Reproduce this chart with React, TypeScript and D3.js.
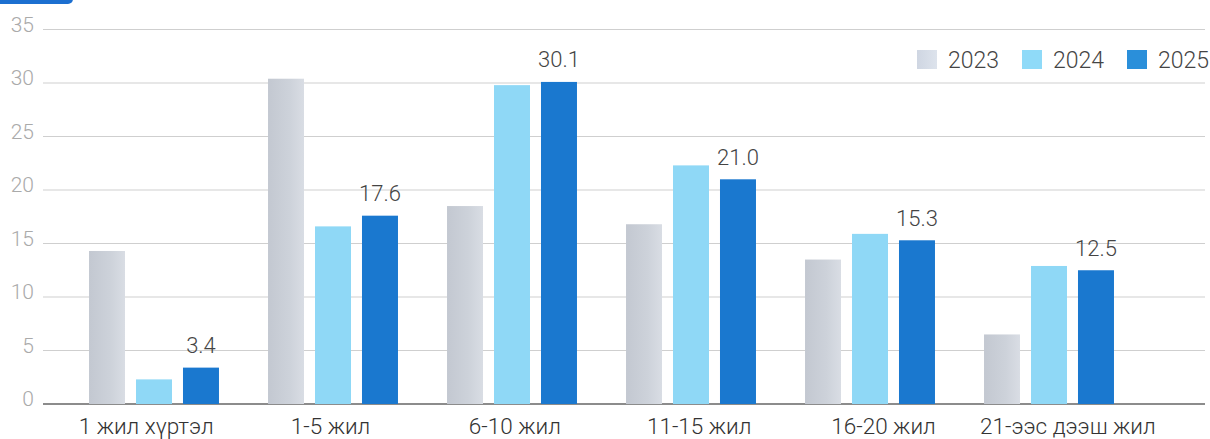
import React from "react";
import * as d3 from "d3";

const categories = ["1 жил хүртэл", "1-5 жил", "6-10 жил", "11-15 жил", "16-20 жил", "21-ээс дээш жил"];
const years = ["2023", "2024", "2025"];
const values2023 = [14.3, 30.4, 18.5, 16.8, 13.5, 6.5];
const values2024 = [2.3, 16.6, 29.8, 22.3, 15.9, 12.9];
const values2025 = [3.4, 17.6, 30.1, 21.0, 15.3, 12.5];
const yTicks = [0, 5, 10, 15, 20, 25, 30, 35];
const labelledYear = "2025";

const W = 1210;
const H = 439;
const FONT = "Roboto, 'Noto Sans', sans-serif";

export default function App() {
  const series: Record<string, number[]> = {
    "2023": values2023,
    "2024": values2024,
    "2025": values2025,
  };
  const colors: Record<string, string> = {
    "2023": "url(#g2023)",
    "2024": "#8fd8f6",
    "2025": "#1a78cf",
  };
  const legendColors: Record<string, string> = {
    "2023": "url(#g2023l)",
    "2024": "#8fdaf8",
    "2025": "#2a8fda",
  };

  const y = d3.scaleLinear().domain([0, 35]).range([404, 29.5]);
  const x0 = d3
    .scaleBand<string>()
    .domain(categories)
    .range([64.5, 1138.5])
    .paddingInner(0.274)
    .paddingOuter(0.137);
  const x1 = d3.scaleBand<string>().domain(years).range([0, x0.bandwidth()]).paddingInner(0.234);
  const xLabel = d3.scaleBand<string>().domain(categories).range([54, 1160]);
  const legendX = d3.scaleBand<string>().domain(years).range([917, 1232]);

  const gridX0 = 43;
  const gridX1 = 1205;

  return (
    <svg
      width={W}
      height={H}
      style={{ position: "absolute", left: 0, top: 0, background: "#fff" }}
      fontFamily={FONT}
    >
      <defs>
        <linearGradient id="g2023" x1="0" x2="1" y1="0" y2="0">
          <stop offset="0" stopColor="#c3c8d1" />
          <stop offset="0.6" stopColor="#cdd2da" />
          <stop offset="1" stopColor="#d9dde4" />
        </linearGradient>
        <linearGradient id="g2023l" x1="0" x2="1" y1="0" y2="0">
          <stop offset="0" stopColor="#cfd6e2" />
          <stop offset="1" stopColor="#dde3ec" />
        </linearGradient>
      </defs>
      <rect width={W} height={H} fill="#fff" />
      <rect x={-10} y={-20} width={83} height={24} rx={5} fill="#1c6fd0" />

      {yTicks.map((t) => (
        <g key={t}>
          <line
            x1={gridX0}
            x2={gridX1}
            y1={y(t)}
            y2={y(t)}
            stroke={t === 0 ? "#666" : "#cfcfcf"}
            strokeWidth={t === 0 ? 1.5 : 1}
          />
          <text
            x={34}
            y={y(t) + 2}
            textAnchor="end"
            fontSize={21}
            fontWeight={300}
            fill="#aaaaaa"
          >
            {t}
          </text>
        </g>
      ))}

      {categories.map((c, i) => (
        <g key={c} transform={`translate(${x0(c)},0)`}>
          {years.map((yr) => {
            const v = series[yr][i];
            return (
              <rect
                key={yr}
                x={x1(yr)}
                y={y(v)}
                width={x1.bandwidth()}
                height={y(0) - y(v)}
                fill={colors[yr]}
              />
            );
          })}
          <text
            x={(x1(labelledYear) as number) + x1.bandwidth() / 2}
            y={y(series[labelledYear][i]) - 14.5}
            textAnchor="middle"
            fontSize={22}
            fontWeight={300}
            fill="#444"
          >
            {series[labelledYear][i].toFixed(1)}
          </text>
        </g>
      ))}

      {categories.map((c) => (
        <text
          key={c}
          x={(xLabel(c) as number) + xLabel.bandwidth() / 2}
          y={434}
          textAnchor="middle"
          fontSize={22.5}
          fontWeight={300}
          fill="#333"
        >
          {c}
        </text>
      ))}

      {years.map((yr) => (
        <g key={yr} transform={`translate(${legendX(yr)},0)`}>
          <rect x={0} y={50} width={20} height={19} fill={legendColors[yr]} />
          <text x={31} y={67.5} fontSize={23} fontWeight={300} fill="#444">
            {yr}
          </text>
        </g>
      ))}
    </svg>
  );
}
